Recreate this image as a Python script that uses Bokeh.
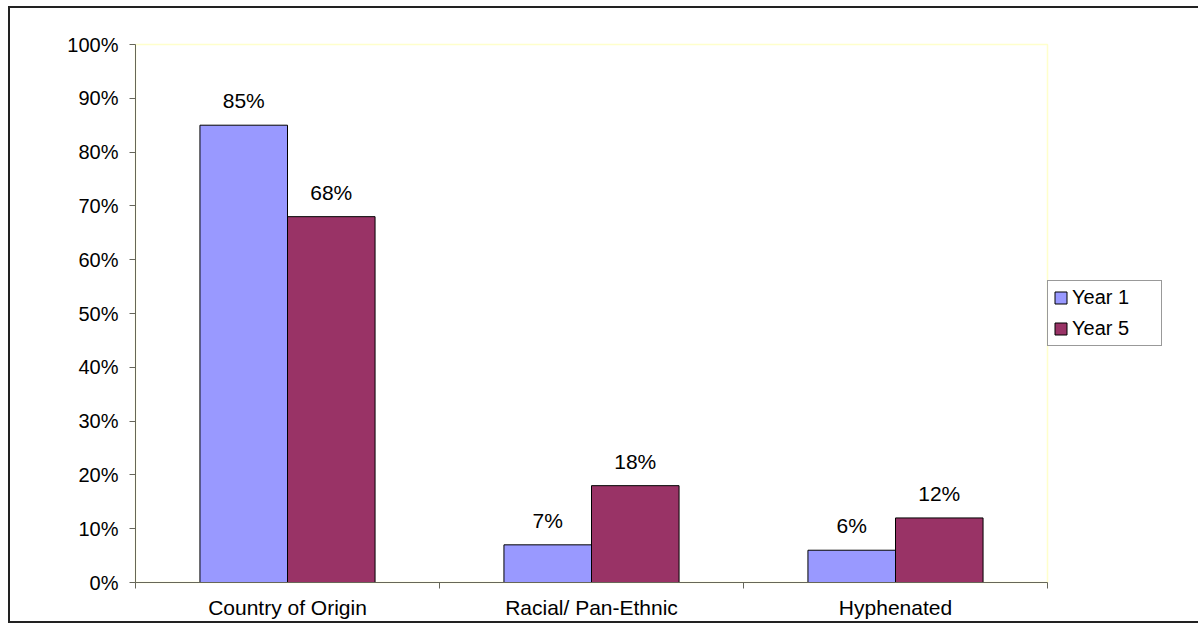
import numpy as np
from bokeh.plotting import figure
from bokeh.models import (ColumnDataSource, Range1d, FixedTicker, PrintfTickFormatter,
                          LabelSet, Legend, LegendItem)
from bokeh.core.properties import value
from bokeh.transform import dodge
from bokeh.embed import file_html
from bokeh.resources import INLINE

# ---- data ----
categories = ["Country of Origin", "Racial/ Pan-Ethnic", "Hyphenated"]
series_names = ["Year 1", "Year 5"]
year1 = [85, 7, 6]
year5 = [68, 18, 12]
y_ticks = [0, 10, 20, 30, 40, 50, 60, 70, 80, 90, 100]

colors = ["#9999FF", "#993366"]
FONT = "Liberation Sans"
AXIS_COLOR = "#66665a"

centers = [i + 0.5 for i in range(len(categories))]
boundaries = [float(i) for i in range(len(categories) + 1)]

src = ColumnDataSource(dict(
    xc=centers,
    y1=year1,
    y5=year5,
    l1=[f"{v}%" for v in year1],
    l5=[f"{v}%" for v in year5],
))

p = figure(frame_width=912, frame_height=538,
           x_range=Range1d(0, len(categories)), y_range=Range1d(0, 100),
           output_backend="svg", toolbar_location=None,
           min_border_left=125, min_border_right=151,
           min_border_top=36, min_border_bottom=30)

p.background_fill_color = "white"
p.border_fill_color = "white"
p.outline_line_color = "#FFFFCC"
p.outline_line_width = 1.5
p.xgrid.visible = False
p.ygrid.visible = False

BW = 0.288
r1 = p.vbar(x=dodge("xc", -BW / 2), top="y1", width=BW, source=src,
            fill_color=colors[0], line_color="black", line_width=1)
r5 = p.vbar(x=dodge("xc", BW / 2), top="y5", width=BW, source=src,
            fill_color=colors[1], line_color="black", line_width=1)

for xoff, col, ycol in ((-BW / 2, "l1", "y1"), (BW / 2, "l5", "y5")):
    p.add_layout(LabelSet(x=dodge("xc", xoff), y=ycol, text=col, source=src,
                          y_offset=17, text_align="center", text_baseline="alphabetic",
                          text_font=value(FONT), text_font_size="21px",
                          text_color="black"))

# x axis
xa = p.xaxis[0]
xa.ticker = FixedTicker(ticks=centers, minor_ticks=boundaries)
xa.major_label_overrides = {c: n for c, n in zip(centers, categories)}
xa.major_tick_out = 0
xa.major_tick_in = 0
xa.minor_tick_out = 6
xa.minor_tick_in = 0
xa.major_label_standoff = 7
xa.major_label_text_font = FONT
xa.major_label_text_font_size = "21px"
xa.major_label_text_color = "black"
xa.axis_line_color = AXIS_COLOR
xa.minor_tick_line_color = AXIS_COLOR

# y axis
ya = p.yaxis[0]
ya.ticker = FixedTicker(ticks=y_ticks, minor_ticks=[])
ya.formatter = PrintfTickFormatter(format="%d%%")
ya.major_tick_out = 6
ya.major_tick_in = 0
ya.major_label_standoff = 11
ya.major_label_text_font = FONT
ya.major_label_text_font_size = "20px"
ya.major_label_text_color = "black"
ya.axis_line_color = AXIS_COLOR
ya.major_tick_line_color = AXIS_COLOR

legend = Legend(items=[LegendItem(label=series_names[0], renderers=[r1]),
                       LegendItem(label=series_names[1], renderers=[r5])],
                location="center_left",
                padding=5, spacing=8, margin=0,
                glyph_width=15, glyph_height=15,
                label_standoff=4, label_width=84,
                label_text_font=FONT, label_text_font_size="20px",
                label_text_color="black",
                border_line_color="#333333", border_line_width=1,
                background_fill_color="white", background_fill_alpha=1)
p.add_layout(legend, "right")

p.styles = {"border-top": "2px solid #222222",
            "border-left": "2px solid #222222",
            "border-bottom": "2px solid #222222",
            "margin-top": "6px",
            "margin-left": "8px"}

open("out.html", "w").write(file_html(p, INLINE))
